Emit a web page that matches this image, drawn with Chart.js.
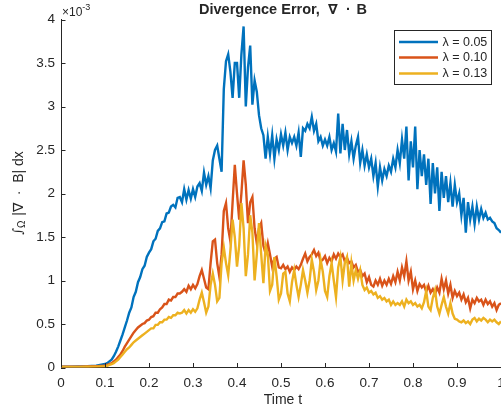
<!DOCTYPE html>
<html>
<head>
<meta charset="utf-8">
<script src="https://cdn.jsdelivr.net/npm/chart.js@4.4.0/dist/chart.umd.min.js"></script>
<style>
  html, body { margin: 0; padding: 0; background: #ffffff; overflow: hidden; }
  #clip { width: 501px; height: 413px; overflow: hidden; position: relative; }
  #wrap { width: 540px; height: 413px; position: absolute; left: 0; top: 0; }
</style>
</head>
<body>
<div id="clip"><div id="wrap"><canvas id="c"></canvas></div></div>
<script>
// ---- data (values in units of 1e-3) ----
const times = [
  0, 0.02, 0.04, 0.06, 0.08,
  0.100, 0.105, 0.110, 0.115, 0.120, 0.125, 0.130, 0.135, 0.140, 0.145,
  0.150, 0.155, 0.160, 0.165, 0.170, 0.175, 0.180, 0.185, 0.190, 0.195,
  0.200, 0.205, 0.210, 0.215, 0.220, 0.225, 0.230, 0.235, 0.240, 0.245,
  0.250, 0.255, 0.260, 0.265, 0.270, 0.275, 0.280, 0.285, 0.290, 0.295,
  0.300, 0.305, 0.310, 0.315, 0.320, 0.325, 0.330, 0.335, 0.340, 0.345,
  0.350, 0.355, 0.360, 0.365, 0.370, 0.375, 0.380, 0.385, 0.390, 0.395,
  0.400, 0.405, 0.410, 0.415, 0.420, 0.425, 0.430, 0.435, 0.440, 0.445,
  0.450, 0.455, 0.460, 0.465, 0.470, 0.475, 0.480, 0.485, 0.490, 0.495,
  0.500, 0.505, 0.510, 0.515, 0.520, 0.525, 0.530, 0.535, 0.540, 0.545,
  0.550, 0.555, 0.560, 0.565, 0.570, 0.575, 0.580, 0.585, 0.590, 0.595,
  0.600, 0.605, 0.610, 0.615, 0.620, 0.625, 0.630, 0.635, 0.640, 0.645,
  0.650, 0.655, 0.660, 0.665, 0.670, 0.675, 0.680, 0.685, 0.690, 0.695,
  0.700, 0.705, 0.710, 0.715, 0.720, 0.725, 0.730, 0.735, 0.740, 0.745,
  0.750, 0.755, 0.760, 0.765, 0.770, 0.775, 0.780, 0.785, 0.790, 0.795,
  0.800, 0.805, 0.810, 0.815, 0.820, 0.825, 0.830, 0.835, 0.840, 0.845,
  0.850, 0.855, 0.860, 0.865, 0.870, 0.875, 0.880, 0.885, 0.890, 0.895,
  0.900, 0.905, 0.910, 0.915, 0.920, 0.925, 0.930, 0.935, 0.940, 0.945,
  0.950, 0.955, 0.960, 0.965, 0.970, 0.975, 0.980, 0.985, 0.990, 0.995,
  1.000
];

const lambda005 = [
  0.01, 0.01, 0.012, 0.015, 0.022,
  0.04, 0.05, 0.07, 0.09, 0.13, 0.18, 0.24, 0.31, 0.38, 0.46,
  0.54, 0.63, 0.69, 0.81, 0.87, 0.98, 1.04, 1.13, 1.17, 1.27,
  1.32, 1.36, 1.45, 1.48, 1.57, 1.60, 1.67, 1.68, 1.77, 1.78,
  1.85, 1.87, 1.84, 1.95, 1.96, 1.90, 2.05, 1.93, 2.04, 1.94,
  2.05, 1.96, 2.08, 2.12, 2.03, 2.24, 2.10, 2.20, 2.06, 2.38,
  2.50, 2.55, 2.40, 2.25, 3.20, 3.52, 3.60, 3.40, 3.10, 3.50,
  3.50, 3.10, 3.60, 3.92, 3.00, 3.45, 3.70, 3.02, 3.30, 3.17,
  2.90, 2.75, 2.67, 2.40, 2.65, 2.45, 2.67, 2.40, 2.62, 2.50,
  2.68, 2.55, 2.70, 2.50, 2.65, 2.58, 2.65, 2.55, 2.70, 2.42,
  2.75, 2.72, 2.80, 2.75, 2.88, 2.72, 2.80, 2.60, 2.65, 2.55,
  2.62, 2.55, 2.65, 2.50, 2.58, 2.48, 2.92, 2.46, 2.80, 2.50,
  2.73, 2.45, 2.60, 2.40, 2.55, 2.65, 2.35, 2.50, 2.32, 2.45,
  2.30, 2.40, 2.20, 2.35, 2.08, 2.30, 2.15, 2.28, 2.20, 2.32,
  2.25, 2.40, 2.30, 2.50, 2.35, 2.62, 2.40, 2.77, 2.15, 2.60,
  2.30, 2.77, 2.05, 2.50, 2.20, 2.45, 2.10, 2.40, 1.88, 2.35,
  2.00, 2.30, 1.80, 2.25, 1.95, 2.20, 1.90, 2.12, 1.85, 2.10,
  1.90, 2.00, 1.75, 1.95, 1.55, 1.90, 1.70, 1.85, 1.65, 1.85,
  1.70, 1.82, 1.72, 1.78, 1.70, 1.72, 1.68, 1.66, 1.60, 1.58,
  1.55
];

const lambda010 = [
  0.008, 0.01, 0.01, 0.012, 0.015,
  0.02, 0.03, 0.04, 0.05, 0.07, 0.09, 0.12, 0.15, 0.19, 0.24,
  0.28, 0.32, 0.36, 0.40, 0.43, 0.46, 0.48, 0.50, 0.51, 0.54,
  0.55, 0.58, 0.59, 0.63, 0.63, 0.67, 0.69, 0.73, 0.73, 0.78,
  0.77, 0.81, 0.81, 0.85, 0.85, 0.87, 0.90, 0.87, 0.94, 0.90,
  0.95, 0.91, 0.96, 1.05, 1.12, 1.02, 0.92, 0.90, 1.20, 1.45,
  1.47, 1.20, 1.04, 1.30, 1.80, 1.89, 1.60, 1.45, 1.90, 2.33,
  2.00, 1.70, 2.00, 2.38, 2.10, 1.66, 1.90, 1.96, 1.60, 1.43,
  1.60, 1.66, 1.40, 1.31, 1.43, 1.30, 1.16, 1.25, 1.27, 1.15,
  1.14, 1.18, 1.13, 1.16, 1.10, 1.15, 1.12, 1.16, 1.13, 1.18,
  1.25, 1.31, 1.22, 1.27, 1.30, 1.35, 1.28, 1.32, 1.22, 1.24,
  1.28, 1.20, 1.26, 1.22, 1.30, 1.25, 1.31, 1.27, 1.30, 1.22,
  1.26, 1.20, 1.22, 1.15, 1.18, 1.10, 1.12, 1.05, 1.08, 0.98,
  1.04, 0.95, 0.93, 1.00, 0.95, 1.02, 0.94, 1.00, 0.95, 1.02,
  0.96, 1.05, 0.98, 1.10, 1.00, 1.15, 1.05, 1.22, 1.00, 1.10,
  0.90, 1.00, 0.88, 0.96, 0.92, 0.95, 0.87, 0.94, 0.86, 0.90,
  0.84, 0.92, 0.86, 1.02, 0.90, 1.00, 0.85, 0.95, 0.80, 0.88,
  0.82, 0.86, 0.78, 0.84, 0.75, 0.80, 0.68, 0.78, 0.74, 0.80,
  0.76, 0.78, 0.72, 0.78, 0.73, 0.76, 0.70, 0.74, 0.66, 0.72,
  0.74
];

const lambda013 = [
  0.005, 0.006, 0.007, 0.008, 0.01,
  0.015, 0.02, 0.03, 0.04, 0.05, 0.07, 0.09, 0.12, 0.15, 0.18,
  0.21, 0.23, 0.26, 0.29, 0.31, 0.33, 0.35, 0.37, 0.39, 0.41,
  0.43, 0.45, 0.45, 0.49, 0.49, 0.52, 0.52, 0.55, 0.55, 0.58,
  0.57, 0.60, 0.60, 0.63, 0.62, 0.63, 0.66, 0.62, 0.66, 0.63,
  0.67, 0.64, 0.68, 0.78, 0.86, 0.75, 0.63, 0.70, 0.95, 1.08,
  0.95, 0.76, 0.80, 1.20, 1.38, 1.20, 1.06, 1.35, 1.70, 1.50,
  1.16, 1.40, 1.89, 1.60, 1.05, 1.30, 1.75, 1.55, 1.00, 1.30,
  1.66, 1.30, 0.97, 1.40, 1.30, 0.88, 0.95, 1.27, 1.05, 0.78,
  0.85, 1.08, 1.10, 0.85, 0.76, 0.98, 1.12, 0.95, 0.81, 0.95,
  1.12, 1.00, 0.86, 1.00, 1.24, 1.10, 0.89, 1.00, 1.24, 1.10,
  0.88, 0.81, 1.05, 1.20, 1.00, 0.81, 1.15, 1.27, 1.00, 1.20,
  1.27, 0.93, 1.20, 1.00, 1.12, 1.02, 1.12, 0.95, 0.89, 0.92,
  0.86, 0.88, 0.84, 0.86, 0.80, 0.82, 0.78, 0.80, 0.76, 0.78,
  0.72, 0.76, 0.72, 0.74, 0.72, 0.76, 0.70, 0.78, 0.74, 0.76,
  0.72, 0.74, 0.70, 0.72, 0.68, 0.75, 0.88, 0.70, 0.66, 0.80,
  0.89, 0.70, 0.62, 0.72, 0.81, 0.70, 0.62, 0.74, 0.62, 0.56,
  0.55, 0.53, 0.52, 0.54, 0.51, 0.53, 0.50, 0.55, 0.57, 0.53,
  0.56, 0.54, 0.57, 0.55, 0.52, 0.55, 0.53, 0.55, 0.52, 0.50,
  0.53
];

const seriesLabels = ['\u03BB = 0.05', '\u03BB = 0.10', '\u03BB = 0.13'];
const seriesColors = ['#0072BD', '#D95319', '#EDB120'];
const seriesValues = [lambda005, lambda010, lambda013];

const xTickStep = 0.1;
const yTickStep = 0.5;
const titlePieces = ['Divergence Error,', '\u2207', '\u00B7', 'B'];
const xTitleText = 'Time t';

const AXIS_COLOR = '#262626';
const FONT = '"Liberation Sans", Arial, Helvetica, sans-serif';

function toPoints(vals) { return vals.map((v, i) => ({ x: times[i], y: v })); }
function fmtTick(v) { return String(+Number(v).toFixed(2)); }

const decor = {
  id: 'matlabDecor',
  afterDraw(chart) {
    const ctx = chart.ctx;
    const a = chart.chartArea;
    const xs = chart.scales.x, ys = chart.scales.y;
    ctx.save();
    // inward ticks
    ctx.strokeStyle = AXIS_COLOR;
    ctx.lineWidth = 1;
    ctx.beginPath();
    xs.ticks.forEach(t => {
      const px = Math.round(xs.getPixelForValue(t.value)) + 0.5;
      ctx.moveTo(px, a.bottom);
      ctx.lineTo(px, a.bottom - 4.5);
    });
    ys.ticks.forEach(t => {
      const py = Math.round(ys.getPixelForValue(t.value)) + 0.5;
      ctx.moveTo(a.left, py);
      ctx.lineTo(a.left + 4.5, py);
    });
    ctx.stroke();

    ctx.fillStyle = AXIS_COLOR;
    // exponent label
    ctx.textBaseline = 'alphabetic';
    ctx.textAlign = 'left';
    ctx.font = '12px ' + FONT;
    ctx.fillText('\u00D710', a.left + 1, 16);
    const w10 = ctx.measureText('\u00D710').width;
    ctx.font = '9px ' + FONT;
    ctx.fillText('-3', a.left + 1 + w10, 10);

    // title (pieces placed with MATLAB-like spacing)
    const cx = (a.left + a.right) / 2;
    const tStart = cx - 82;
    ctx.textAlign = 'left';
    ctx.font = 'bold 14.5px ' + FONT;
    ctx.fillText(titlePieces[0], tStart, 14);
    ctx.font = 'bold 14px "DejaVu Sans", ' + FONT;
    ctx.fillText(titlePieces[1], tStart + 129, 14);
    ctx.font = 'bold 14.5px ' + FONT;
    ctx.fillText(titlePieces[2], tStart + 147, 14);
    ctx.fillText(titlePieces[3], tStart + 157.5, 14);

    // x title
    ctx.font = '14px ' + FONT;
    ctx.textAlign = 'center';
    ctx.textBaseline = 'middle';
    ctx.fillText(xTitleText, cx + 2, 400);

    // y title: ∫_Ω |∇ · B| dx
    ctx.save();
    const cy = (a.top + a.bottom) / 2;
    ctx.translate(18, cy);
    ctx.rotate(-Math.PI / 2);
    const p1 = '\u222B', p2 = '\u03A9', p3 = ' |\u2207  \u00B7  B| dx';
    ctx.font = 'italic 13px "DejaVu Serif", serif';
    const w1 = ctx.measureText(p1).width;
    ctx.font = '10px ' + FONT;
    const w2 = ctx.measureText(p2).width;
    ctx.font = '14px ' + FONT;
    const w3 = ctx.measureText(p3).width;
    let x0 = -(w1 + w2 + w3) / 2;
    ctx.textAlign = 'left';
    ctx.textBaseline = 'alphabetic';
    ctx.font = 'italic 13px "DejaVu Serif", serif';
    ctx.fillText(p1, x0, 4);
    ctx.font = '10px ' + FONT;
    ctx.fillText(p2, x0 + w1, 7);
    ctx.font = '14px ' + FONT;
    ctx.fillText(p3, x0 + w1 + w2 + 1, 4.5);
    ctx.restore();

    // legend box
    const lx = 394.5, ly = 30.5, lw = 97, lh = 54;
    ctx.fillStyle = '#ffffff';
    ctx.fillRect(lx, ly, lw, lh);
    ctx.strokeStyle = AXIS_COLOR;
    ctx.lineWidth = 1;
    ctx.strokeRect(lx, ly, lw, lh);
    const rows = [42, 57.5, 73.5];
    ctx.font = '12.5px ' + FONT;
    ctx.textAlign = 'left';
    ctx.textBaseline = 'middle';
    seriesLabels.forEach((lab, i) => {
      ctx.strokeStyle = seriesColors[i];
      ctx.lineWidth = 2.4;
      ctx.beginPath();
      ctx.moveTo(399, rows[i]);
      ctx.lineTo(438, rows[i]);
      ctx.stroke();
      ctx.fillStyle = AXIS_COLOR;
      ctx.fillText(lab, 442.5, rows[i] + 0.5);
    });
    ctx.restore();
  }
};

new Chart(document.getElementById('c'), {
  type: 'line',
  data: {
    datasets: seriesValues.map((vals, i) => ({
      label: seriesLabels[i],
      data: toPoints(vals),
      borderColor: seriesColors[i],
      backgroundColor: seriesColors[i],
      borderWidth: 2.4,
      pointRadius: 0,
      tension: 0,
      fill: false,
      order: 3 - i
    }))
  },
  options: {
    responsive: true,
    maintainAspectRatio: false,
    animation: false,
    devicePixelRatio: 1,
    layout: { padding: { left: 0, top: 19.5, right: 39, bottom: 0 } },
    plugins: { legend: { display: false }, tooltip: { enabled: false }, title: { display: false } },
    scales: {
      x: {
        type: 'linear',
        min: 0, max: 1,
        grid: { display: false, drawTicks: false },
        border: { display: true, color: AXIS_COLOR, width: 1 },
        ticks: { stepSize: xTickStep, padding: 8, color: AXIS_COLOR, font: { family: FONT, size: 13.5 }, maxRotation: 0, autoSkip: false, callback: fmtTick },
        afterFit(s) { s.height = 45.5; }
      },
      y: {
        type: 'linear',
        min: 0, max: 4,
        grid: { display: false, drawTicks: false },
        border: { display: true, color: AXIS_COLOR, width: 1 },
        ticks: { stepSize: yTickStep, padding: 6, color: AXIS_COLOR, font: { family: FONT, size: 13.5 }, callback: fmtTick },
        afterFit(s) { s.width = 61; }
      }
    }
  },
  plugins: [decor]
});
</script>
</body>
</html>
